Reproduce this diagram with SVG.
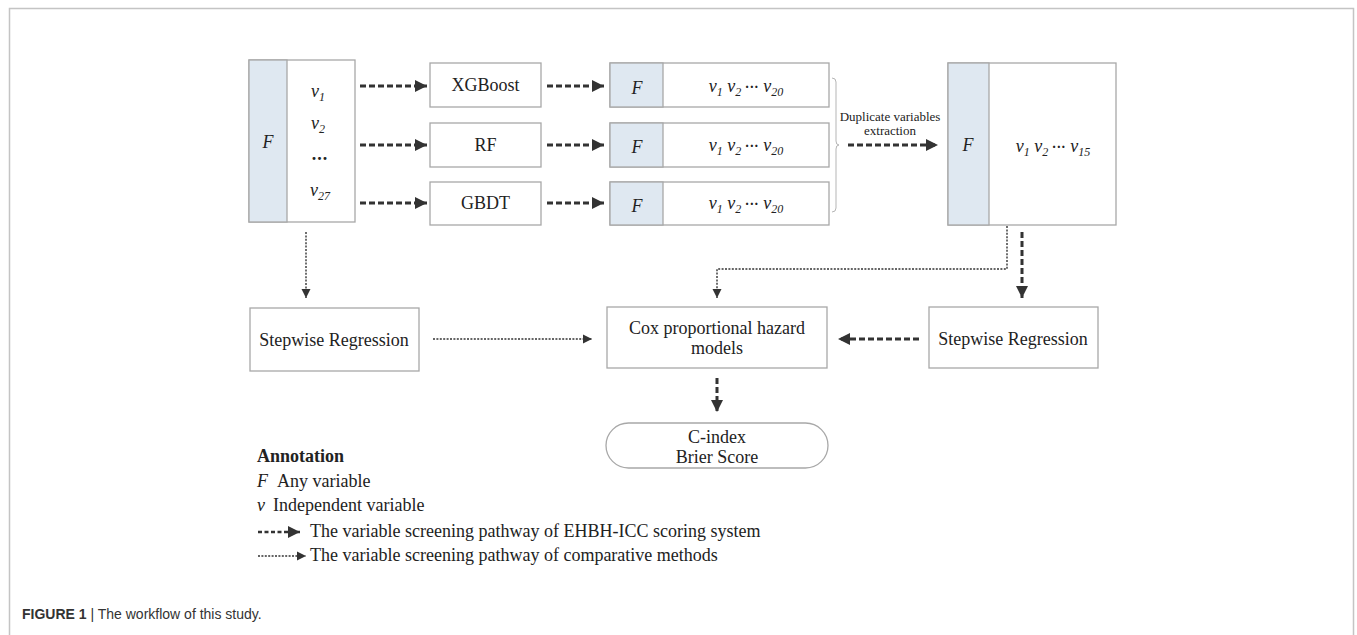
<svg xmlns="http://www.w3.org/2000/svg" width="1357" height="635" viewBox="0 0 1357 635">
<style>
.box{fill:#fff;stroke:#a8a8a8;stroke-width:1.3}
.fcol{fill:#dfe8f1;stroke:#a8a8a8;stroke-width:1.3}
.t{font-family:"Liberation Serif",serif;font-size:18px;fill:#222}
.i{font-style:italic}
.c{text-anchor:middle}
.bd{fill:none;stroke:#333;stroke-width:3;stroke-dasharray:6 3}
.dt{fill:none;stroke:#333;stroke-width:1.4;stroke-dasharray:2 1.4}
.cap{font-family:"Liberation Sans",Arial,sans-serif;font-size:14px;fill:#333}
</style>
<defs>
<marker id="hb" markerUnits="userSpaceOnUse" markerWidth="12" markerHeight="14" refX="12" refY="7" orient="auto"><path d="M0,1 L12,7 L0,13 z" fill="#333"/></marker>
<marker id="hd" markerUnits="userSpaceOnUse" markerWidth="9" markerHeight="10" refX="9" refY="5" orient="auto"><path d="M0,0.5 L9,5 L0,9.5 z" fill="#333"/></marker>
</defs>
<rect width="1357" height="635" fill="#fff"/>
<path d="M9.5,635 V8.5 H1353.5 V635" fill="none" stroke="#c4c4c4" stroke-width="1.5"/>

<g id="input">
<rect class="box" x="249" y="60" width="106" height="162"/>
<rect class="fcol" x="249" y="60" width="38" height="162"/>
<text class="t i c" x="268" y="148">F</text>
<text class="t i c" x="318" y="97">v<tspan font-size="12" dy="4">1</tspan></text>
<text class="t i c" x="318" y="129">v<tspan font-size="12" dy="4">2</tspan></text>
<text class="t c" x="320" y="160" font-weight="bold" letter-spacing="1">...</text>
<text class="t i c" x="320" y="196">v<tspan font-size="12" dy="4">27</tspan></text>
</g>

<g id="xgboost"><rect class="box" x="430" y="63" width="111" height="44"/><text class="t c" x="485.5" y="91">XGBoost</text></g>
<g id="rf"><rect class="box" x="430" y="123" width="111" height="44"/><text class="t c" x="485.5" y="151">RF</text></g>
<g id="gbdt"><rect class="box" x="430" y="182" width="111" height="43"/><text class="t c" x="485.5" y="209">GBDT</text></g>

<g id="res1">
<rect class="box" x="610" y="63" width="219" height="44"/><rect class="fcol" x="610" y="63" width="53" height="44"/>
<text class="t i c" x="637" y="94">F</text>
<text class="t i c" x="746" y="92">v<tspan font-size="12" dy="4">1</tspan><tspan dy="-4"> v</tspan><tspan font-size="12" dy="4">2</tspan><tspan dy="-4" font-style="normal" font-size="14" font-weight="bold"> ···</tspan><tspan dy="0"> v</tspan><tspan font-size="12" dy="4">20</tspan></text>
</g>
<g id="res2">
<rect class="box" x="610" y="123" width="219" height="44"/><rect class="fcol" x="610" y="123" width="53" height="44"/>
<text class="t i c" x="637" y="153">F</text>
<text class="t i c" x="746" y="151">v<tspan font-size="12" dy="4">1</tspan><tspan dy="-4"> v</tspan><tspan font-size="12" dy="4">2</tspan><tspan dy="-4" font-style="normal" font-size="14" font-weight="bold"> ···</tspan><tspan dy="0"> v</tspan><tspan font-size="12" dy="4">20</tspan></text>
</g>
<g id="res3">
<rect class="box" x="610" y="182" width="219" height="43"/><rect class="fcol" x="610" y="182" width="53" height="43"/>
<text class="t i c" x="637" y="212">F</text>
<text class="t i c" x="746" y="209">v<tspan font-size="12" dy="4">1</tspan><tspan dy="-4"> v</tspan><tspan font-size="12" dy="4">2</tspan><tspan dy="-4" font-style="normal" font-size="14" font-weight="bold"> ···</tspan><tspan dy="0"> v</tspan><tspan font-size="12" dy="4">20</tspan></text>
</g>

<g id="brace">
<path d="M832,78 q4,0 4,4 V141 q0,4 3,4 q-3,0 -3,4 V208 q0,4 -4,4" fill="none" stroke="#b5b5b5" stroke-width="1"/>
<text x="890" y="121" text-anchor="middle" font-family="Liberation Serif,serif" font-size="13" fill="#222">Duplicate variables</text>
<text x="890" y="135" text-anchor="middle" font-family="Liberation Serif,serif" font-size="13" fill="#222">extraction</text>
</g>

<g id="final">
<rect class="box" x="948" y="63" width="168" height="162"/><rect class="fcol" x="948" y="63" width="41" height="162"/>
<text class="t i c" x="968" y="151">F</text>
<text class="t i c" x="1053" y="152">v<tspan font-size="12" dy="4">1</tspan><tspan dy="-4"> v</tspan><tspan font-size="12" dy="4">2</tspan><tspan dy="-4" font-style="normal" font-size="14" font-weight="bold"> ···</tspan><tspan dy="0"> v</tspan><tspan font-size="12" dy="4">15</tspan></text>
</g>

<g id="sw-left"><rect class="box" x="250" y="308" width="169" height="63"/><text class="t c" x="334" y="346">Stepwise Regression</text></g>
<g id="cox"><rect class="box" x="607" y="307" width="220" height="61"/><text class="t c" x="717" y="334">Cox proportional hazard</text><text class="t c" x="717" y="354">models</text></g>
<g id="sw-right"><rect class="box" x="929" y="307" width="169" height="61"/><text class="t c" x="1013" y="345">Stepwise Regression</text></g>
<g id="metrics"><rect class="box" x="606" y="423" width="222" height="45" rx="22.5"/><text class="t c" x="717" y="443">C-index</text><text class="t c" x="717" y="463">Brier Score</text></g>

<g id="connectors">
<path class="bd" d="M360,86 H427" marker-end="url(#hb)"/>
<path class="bd" d="M360,145 H427" marker-end="url(#hb)"/>
<path class="bd" d="M360,203 H427" marker-end="url(#hb)"/>
<path class="bd" d="M547,86 H604" marker-end="url(#hb)"/>
<path class="bd" d="M547,145 H604" marker-end="url(#hb)"/>
<path class="bd" d="M547,203 H604" marker-end="url(#hb)"/>
<path class="bd" d="M848,145 H938" marker-end="url(#hb)"/>
<path class="bd" d="M1022,232 V298" marker-end="url(#hb)"/>
<path class="bd" d="M919,339 H838" marker-end="url(#hb)"/>
<path class="bd" d="M717,378 V412" marker-end="url(#hb)"/>
<path class="dt" d="M306,232 V298" marker-end="url(#hd)"/>
<path class="dt" d="M433,339 H592" marker-end="url(#hd)"/>
<path class="dt" d="M1007,226 V269 H717 V298" marker-end="url(#hd)"/>
</g>

<g id="legend">
<text class="t" x="257" y="462" font-weight="bold">Annotation</text>
<text class="t" x="257" y="487"><tspan font-style="italic">F</tspan><tspan x="277">Any variable</tspan></text>
<text class="t" x="257" y="511"><tspan font-style="italic">v</tspan><tspan x="273">Independent variable</tspan></text>
<path d="M258,532 H300" fill="none" stroke="#333" stroke-width="2.4" stroke-dasharray="4 2.5" marker-end="url(#hb)"/>
<text class="t" x="310" y="537">The variable screening pathway of EHBH-ICC scoring system</text>
<path class="dt" d="M258,556 H306" stroke-width="1.2" marker-end="url(#hd)"/>
<text class="t" x="310" y="561">The variable screening pathway of comparative methods</text>
</g>

<text class="cap" x="22" y="619"><tspan font-weight="bold">FIGURE 1</tspan> | The workflow of this study.</text>
</svg>
